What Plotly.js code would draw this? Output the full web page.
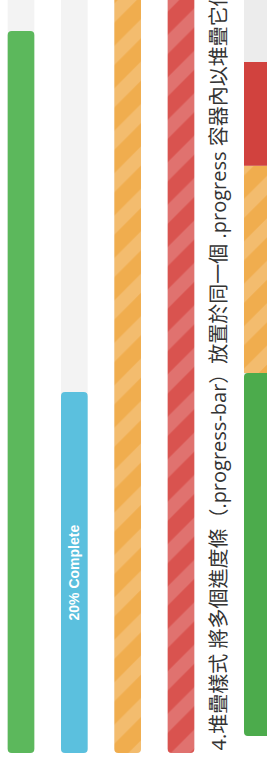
<!DOCTYPE html>
<html>
<head>
<meta charset="utf-8">
<script src="https://cdn.plot.ly/plotly-3.0.1.min.js"></script>
<style>html,body{margin:0;padding:0;background:#fff;}#chart{width:267px;height:763px;}</style>
</head>
<body>
<div id="chart"></div>
<script>
// ---- data ----
const categories = ['Success', 'Info', 'Warning', 'Danger'];
const values = [40, 20, 60, 80];
const barLabels = ['', '20% Complete', '', ''];
const striped = [false, false, true, true];
const stackedNames = ['Success', 'Warning', 'Danger'];
const stackedValues = [35, 20, 10];
const stackedStriped = [false, true, false];
const trackMax = 100;
const heading = '4.堆疊樣式 將多個進度條（.progress-bar）放置於同一個 .progress 容器內以堆疊它們';

// ---- styles ----
const colors = {Success: '#5cb85c', Info: '#5bc0de', Warning: '#f0ad4e', Danger: '#d9534f'};
const stackColors = {Success: '#4cab4c', Warning: '#f0ad4e', Danger: '#d1423e'};
const W = 267, H = 763;

function stripe(c, on) {
  return on ? {shape: '/', fillmode: 'overlay', bgcolor: c, fgcolor: '#ffffff', fgopacity: 0.18, size: 30, solidity: 0.45}
            : {shape: ''};
}

const traces = [];
// tracks
traces.push({type: 'bar', x: categories, y: categories.map(() => -trackMax), base: categories.map(() => trackMax),
  width: 0.5, marker: {color: '#f3f3f3', cornerradius: 4, line: {width: 0}}, hoverinfo: 'skip', xaxis: 'x', yaxis: 'y'});
// bars
categories.forEach((c, i) => {
  traces.push({type: 'bar', x: [c], y: [-values[i]], base: [values[i]], width: 0.5,
    text: [barLabels[i]], textposition: 'inside', insidetextanchor: 'middle', textangle: -90,
    textfont: {color: '#ffffff', size: 14, family: 'Liberation Sans, Arial, sans-serif', weight: 'bold'},
    marker: {color: colors[c], cornerradius: 4, line: {width: 0}, pattern: stripe(colors[c], striped[i])},
    xaxis: 'x', yaxis: 'y'});
});
// stacked track
traces.push({type: 'bar', x: [0], y: [-trackMax], base: [trackMax], width: 1,
  marker: {color: '#ececec', cornerradius: 4, line: {width: 0}}, xaxis: 'x2', yaxis: 'y2'});
let acc = 0;
stackedNames.forEach((n, i) => {
  const v = stackedValues[i];
  const first = i === 0;
  traces.push({type: 'bar', x: [0], y: first ? [-v] : [v], base: first ? [v] : [acc], width: 1,
    marker: {color: stackColors[n], cornerradius: first ? 4 : 0, line: {width: 0}, pattern: stripe(stackColors[n], stackedStriped[i])},
    xaxis: 'x2', yaxis: 'y2'});
  acc += v;
});

// axis geometry (pixels)
const unitX = 53.33, firstCenter = 21;
const x0 = -firstCenter / unitX;
const pxPerPct1 = 18.05, zero1 = 753;
const pxPerPct2 = 10.37, zero2 = 736;
const x2dom0 = 240.3 / W, x2unit = W - 240.3;
const x2r0 = -0.5 - (244 - 240.3) / x2unit;

const layout = {
  width: W, height: H,
  margin: {l: 0, r: 0, t: 0, b: 0},
  paper_bgcolor: '#ffffff', plot_bgcolor: 'rgba(0,0,0,0)',
  showlegend: false, barmode: 'overlay',
  xaxis: {domain: [0, 213 / W], range: [x0, x0 + 213 / unitX], type: 'category', categoryarray: categories,
    visible: false, fixedrange: true},
  yaxis: {domain: [0, 1], range: [-(H - zero1) / pxPerPct1, zero1 / pxPerPct1], visible: false},
  xaxis2: {domain: [x2dom0, 1], range: [x2r0, x2r0 + 1], visible: false},
  yaxis2: {domain: [0, 1], anchor: 'x2', range: [-(H - zero2) / pxPerPct2, zero2 / pxPerPct2], visible: false},
  annotations: [{text: heading, xref: 'paper', yref: 'paper', x: 217.5 / W, y: (H - 753) / H,
    xanchor: 'center', yanchor: 'bottom', textangle: -90, showarrow: false,
    font: {family: 'Open Sans, Noto Sans CJK TC, sans-serif', size: 20, color: '#333333'}}]
};

Plotly.newPlot('chart', traces, layout, {staticPlot: true, displayModeBar: false});
</script>
</body>
</html>
